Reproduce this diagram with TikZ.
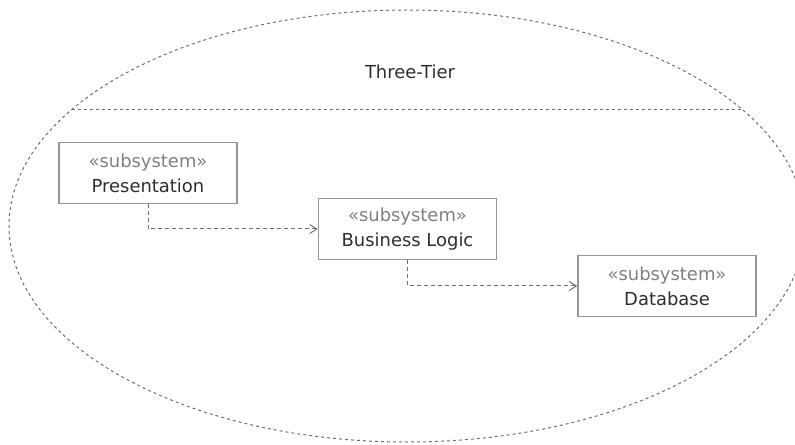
\documentclass[tikz,border=0pt]{standalone}
\usepackage{fontspec}
\setmainfont{DejaVu Sans}
\usetikzlibrary{arrows.meta, positioning}
\definecolor{umlLine}{HTML}{707070}
\definecolor{umlBox}{HTML}{969696}
\definecolor{umlStereo}{HTML}{808080}
\definecolor{umlText}{HTML}{2E2E2E}
\newcommand{\subsys}[1]{{\color{umlStereo}«subsystem»}\\{\color{umlText}#1}}

\begin{document}
\begin{tikzpicture}[
  x=1bp, y=-1bp,
  subsysbox/.style={draw=umlBox, line width=1.6bp, align=center,
              minimum width=178bp, minimum height=61bp, inner sep=2pt,
              font=\fontsize{18}{25}\selectfont},
  dep/.style={draw=umlLine, line width=1bp, dash pattern=on 4bp off 3bp,
              -{Straight Barb[length=2.5mm, width=3.2mm]}},
  pkgline/.style={draw=umlLine, line width=1bp, dash pattern=on 3bp off 3bp},
]
\useasboundingbox (0,0) rectangle (795,445);
\clip (0,0) rectangle (795,445);
% package ellipse
\coordinate (centre) at (407,226);
\draw[pkgline] (centre) ellipse [x radius=398, y radius=216];
\coordinate (sepL) at (72,110);
\coordinate (sepR) at (742,110);
\draw[pkgline] (sepL) -- (sepR);
\node[font=\fontsize{18}{22}\selectfont, text=umlText] (title) at (410,72) {Three-Tier};

% subsystems
\node[subsysbox] (pres) at (148,173) {\subsys{Presentation}};
\node[subsysbox] (logic) at (407.5,229) {\subsys{Business Logic}};
\node[subsysbox] (db) at (667,286) {\subsys{Database}};

\draw[dep] (pres.south) |- (logic.west);
\draw[dep] (logic.south) |- (db.west);
\end{tikzpicture}
\end{document}
